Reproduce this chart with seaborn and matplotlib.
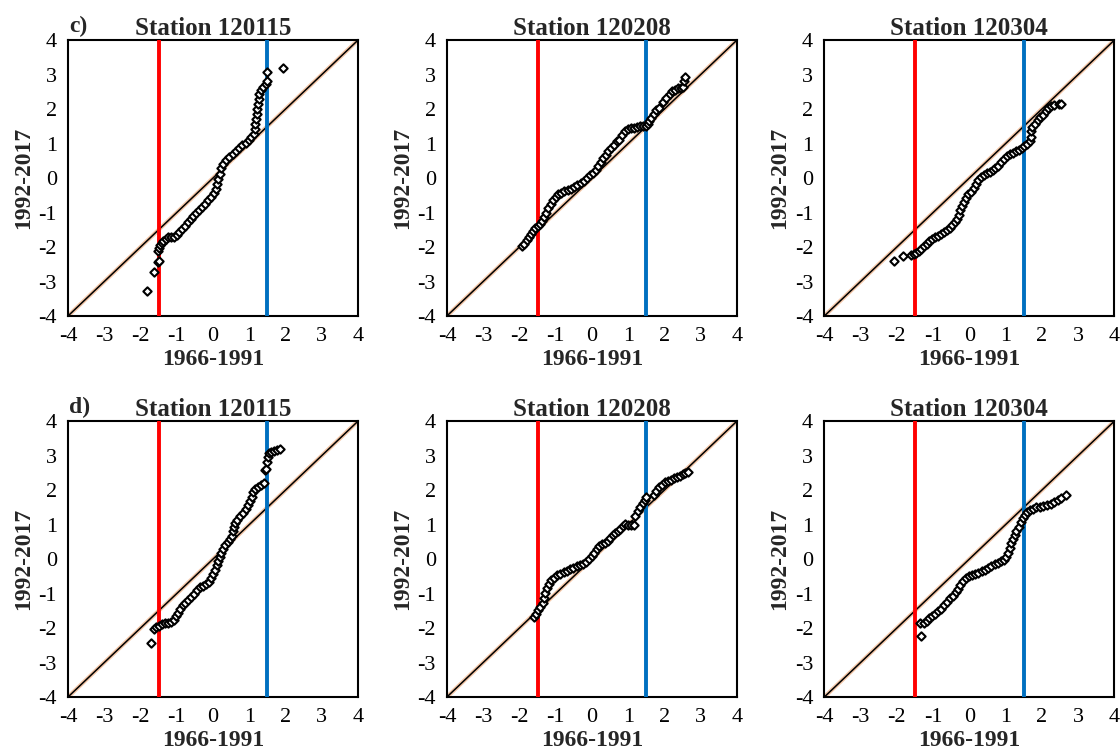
import numpy as np
import pandas as pd
import seaborn as sns
import matplotlib.pyplot as plt

# panel titles / labels
stations = ["Station 120115", "Station 120208", "Station 120304"]
row_tags = ["c)", "d)"]

# quantiles: (1966-1991, 1992-2017)
c_120115 = [(-1.81, -3.28), (-1.64, -2.73), (-1.52, -2.44), (-1.50, -2.40), (-1.51, -2.12),
            (-1.49, -2.02), (-1.46, -1.95), (-1.42, -1.88), (-1.37, -1.82), (-1.31, -1.77),
            (-1.24, -1.72), (-1.16, -1.70), (-1.08, -1.70), (-1.00, -1.64), (-0.93, -1.56),
            (-0.86, -1.48), (-0.78, -1.38), (-0.70, -1.28), (-0.62, -1.20), (-0.54, -1.10),
            (-0.46, -1.02), (-0.38, -0.94), (-0.30, -0.85), (-0.22, -0.75), (-0.14, -0.65),
            (-0.06, -0.54), (0.02, -0.44), (0.08, -0.32), (0.12, -0.18), (0.15, -0.04),
            (0.18, 0.12), (0.22, 0.28), (0.28, 0.42), (0.36, 0.52), (0.45, 0.62),
            (0.54, 0.70), (0.63, 0.78), (0.72, 0.86), (0.81, 0.95), (0.90, 1.02),
            (0.98, 1.10), (1.06, 1.18), (1.12, 1.28), (1.15, 1.42), (1.17, 1.58),
            (1.18, 1.72), (1.20, 1.86), (1.22, 2.00), (1.24, 2.14), (1.26, 2.30),
            (1.28, 2.45), (1.32, 2.55), (1.38, 2.63), (1.45, 2.72), (1.48, 2.80),
            (1.49, 3.06), (1.93, 3.18)]

c_120208 = [(-1.92, -1.96), (-1.86, -1.90), (-1.80, -1.80), (-1.74, -1.70), (-1.68, -1.62),
            (-1.62, -1.54), (-1.56, -1.46), (-1.50, -1.40), (-1.44, -1.34), (-1.38, -1.24),
            (-1.32, -1.12), (-1.26, -1.00), (-1.20, -0.88), (-1.14, -0.76), (-1.07, -0.64),
            (-1.00, -0.55), (-0.93, -0.47), (-0.85, -0.42), (-0.76, -0.39), (-0.67, -0.36),
            (-0.58, -0.32), (-0.49, -0.26), (-0.40, -0.20), (-0.31, -0.15), (-0.22, -0.08),
            (-0.14, 0.00), (-0.06, 0.08), (0.02, 0.14), (0.10, 0.24), (0.17, 0.34),
            (0.24, 0.46), (0.31, 0.57), (0.38, 0.66), (0.45, 0.78), (0.52, 0.88),
            (0.60, 0.97), (0.68, 1.06), (0.76, 1.10), (0.84, 1.24), (0.92, 1.35),
            (1.00, 1.41), (1.08, 1.44), (1.16, 1.46), (1.24, 1.48), (1.32, 1.50),
            (1.40, 1.51), (1.48, 1.52), (1.55, 1.56), (1.58, 1.66), (1.64, 1.74),
            (1.70, 1.86), (1.76, 1.96), (1.84, 2.04), (1.95, 2.20), (2.05, 2.32),
            (2.14, 2.44), (2.22, 2.52), (2.30, 2.56), (2.38, 2.60), (2.45, 2.62),
            (2.52, 2.64), (2.54, 2.80), (2.56, 2.92)]

c_120304 = [(-2.09, -2.40), (-1.82, -2.27), (-1.62, -2.22), (-1.52, -2.20), (-1.46, -2.16),
            (-1.40, -2.12), (-1.33, -2.05), (-1.26, -1.98), (-1.18, -1.90), (-1.10, -1.82),
            (-1.02, -1.76), (-0.94, -1.72), (-0.86, -1.67), (-0.78, -1.62), (-0.70, -1.57),
            (-0.62, -1.50), (-0.54, -1.44), (-0.47, -1.37), (-0.40, -1.28), (-0.34, -1.18),
            (-0.29, -1.06), (-0.25, -0.94), (-0.21, -0.82), (-0.16, -0.70), (-0.10, -0.58),
            (-0.04, -0.46), (0.04, -0.40), (0.12, -0.30), (0.18, -0.18), (0.24, -0.06),
            (0.32, 0.04), (0.40, 0.10), (0.48, 0.14), (0.56, 0.18), (0.64, 0.22),
            (0.72, 0.28), (0.80, 0.36), (0.88, 0.46), (0.96, 0.56), (1.04, 0.64),
            (1.12, 0.70), (1.20, 0.74), (1.28, 0.77), (1.36, 0.82), (1.44, 0.87),
            (1.52, 0.92), (1.60, 0.98), (1.67, 1.06), (1.70, 1.20), (1.71, 1.35),
            (1.74, 1.48), (1.80, 1.58), (1.88, 1.68), (1.96, 1.76), (2.04, 1.84),
            (2.10, 1.94), (2.16, 2.04), (2.24, 2.10), (2.34, 2.12), (2.46, 2.14),
            (2.54, 2.14)]

d_120115 = [(-1.70, -2.42), (-1.64, -2.03), (-1.56, -1.97), (-1.48, -1.93), (-1.40, -1.89),
            (-1.32, -1.86), (-1.24, -1.84), (-1.16, -1.82), (-1.08, -1.76), (-1.02, -1.66),
            (-0.97, -1.55), (-0.92, -1.44), (-0.84, -1.34), (-0.76, -1.27), (-0.68, -1.20),
            (-0.60, -1.11), (-0.52, -1.00), (-0.44, -0.90), (-0.36, -0.82), (-0.28, -0.77),
            (-0.20, -0.73), (-0.12, -0.66), (-0.05, -0.56), (0.00, -0.44), (0.05, -0.32),
            (0.10, -0.18), (0.14, -0.06), (0.18, 0.06), (0.22, 0.17), (0.27, 0.30),
            (0.33, 0.42), (0.40, 0.50), (0.46, 0.58), (0.52, 0.68), (0.56, 0.80),
            (0.58, 0.92), (0.61, 1.04), (0.67, 1.14), (0.74, 1.24), (0.82, 1.34),
            (0.90, 1.46), (0.97, 1.56), (1.03, 1.68), (1.07, 1.80), (1.10, 1.94),
            (1.17, 2.02), (1.25, 2.08), (1.33, 2.14), (1.40, 2.20), (1.42, 2.58),
            (1.46, 2.62), (1.49, 2.82), (1.51, 2.96), (1.53, 3.07), (1.60, 3.10),
            (1.68, 3.14), (1.76, 3.16), (1.84, 3.19)]

d_120208 = [(-1.60, -1.68), (-1.54, -1.58), (-1.48, -1.48), (-1.42, -1.40), (-1.36, -1.28),
            (-1.32, -1.14), (-1.29, -0.98), (-1.25, -0.84), (-1.19, -0.72), (-1.12, -0.62),
            (-1.04, -0.54), (-0.96, -0.46), (-0.87, -0.42), (-0.78, -0.38), (-0.69, -0.35),
            (-0.60, -0.30), (-0.51, -0.25), (-0.42, -0.21), (-0.33, -0.18), (-0.24, -0.13),
            (-0.16, -0.08), (-0.08, 0.00), (0.00, 0.08), (0.07, 0.18), (0.13, 0.28),
            (0.19, 0.38), (0.27, 0.44), (0.35, 0.48), (0.43, 0.52), (0.50, 0.60),
            (0.57, 0.70), (0.64, 0.76), (0.71, 0.82), (0.78, 0.88), (0.85, 0.96),
            (0.92, 1.01), (1.00, 1.00), (1.08, 0.98), (1.15, 1.00), (1.20, 1.24),
            (1.26, 1.40), (1.33, 1.52), (1.40, 1.62), (1.46, 1.72), (1.50, 1.80),
            (1.70, 1.86), (1.78, 1.96), (1.86, 2.08), (1.94, 2.16), (2.02, 2.22),
            (2.10, 2.26), (2.18, 2.30), (2.26, 2.34), (2.34, 2.38), (2.42, 2.42),
            (2.50, 2.46), (2.58, 2.50), (2.66, 2.52)]

d_120304 = [(-1.33, -2.22), (-1.35, -1.86), (-1.26, -1.84), (-1.18, -1.80), (-1.10, -1.72),
            (-1.02, -1.66), (-0.94, -1.60), (-0.86, -1.52), (-0.78, -1.44), (-0.70, -1.34),
            (-0.62, -1.24), (-0.54, -1.14), (-0.46, -1.06), (-0.38, -0.96), (-0.31, -0.86),
            (-0.25, -0.74), (-0.18, -0.63), (-0.10, -0.54), (-0.02, -0.50), (0.07, -0.46),
            (0.16, -0.43), (0.25, -0.40), (0.34, -0.36), (0.43, -0.32), (0.52, -0.26),
            (0.61, -0.20), (0.70, -0.15), (0.79, -0.11), (0.88, -0.07), (0.96, -0.02),
            (1.02, 0.06), (1.07, 0.18), (1.11, 0.32), (1.15, 0.46), (1.20, 0.58),
            (1.25, 0.70), (1.30, 0.82), (1.36, 0.94), (1.42, 1.06), (1.47, 1.18),
            (1.53, 1.28), (1.60, 1.36), (1.68, 1.42), (1.76, 1.46), (1.84, 1.50),
            (1.94, 1.52), (2.04, 1.54), (2.14, 1.56), (2.24, 1.60), (2.34, 1.66),
            (2.44, 1.72), (2.54, 1.78), (2.66, 1.86)]

panels = [[c_120115, c_120208, c_120304],
          [d_120115, d_120208, d_120304]]

diag = [-4, 4]
lower_thr = -1.5
upper_thr = 1.5
ticks = [-4, -3, -2, -1, 0, 1, 2, 3, 4]

sns.set_style("white")
plt.rcParams['font.family'] = ['Liberation Serif', 'DejaVu Serif']
plt.rcParams['axes.unicode_minus'] = False

fig = plt.figure(figsize=(11.2, 7.56), dpi=100)

lefts = [0.0607, 0.399, 0.736]
bottoms = [0.582, 0.078]
w, h = 0.259, 0.365

for r in range(2):
    for c in range(3):
        ax = fig.add_axes([lefts[c], bottoms[r], w, h])
        df = pd.DataFrame(panels[r][c], columns=["x", "y"])

        # 1:1 line (peach under black)
        ax.plot(diag, diag, color="#F4C7A8", lw=3, zorder=1)
        ax.plot(diag, diag, color="black", lw=1.1, zorder=2)
        ax.axvline(lower_thr, color="#FF0000", lw=2.8, zorder=3)
        ax.axvline(upper_thr, color="#0070C0", lw=2.8, zorder=3)

        sns.scatterplot(data=df, x="x", y="y", ax=ax, marker="D", s=18,
                        facecolor="white", edgecolor="black", linewidth=1.5,
                        zorder=4, legend=False)

        ax.set_xlim(-4, 4)
        ax.set_ylim(-4, 4)
        ax.set_xticks(ticks)
        ax.set_yticks(ticks)
        ax.tick_params(length=0, labelsize=16, pad=8, colors="black")
        for s in ax.spines.values():
            s.set_color("black")
            s.set_linewidth(1.5)

        ax.set_xlabel("1966-1991", fontsize=17, fontweight="bold", labelpad=2)
        ax.set_ylabel("1992-2017", fontsize=17, fontweight="bold", labelpad=3)
        ax.set_title(stations[c], fontsize=18, fontweight="bold", pad=4)
        if c == 0:
            ax.text(0.005, 1.012, row_tags[r], transform=ax.transAxes,
                    fontsize=17, fontweight="bold", va="bottom", ha="left")

fig.savefig("out.png", dpi=100)
